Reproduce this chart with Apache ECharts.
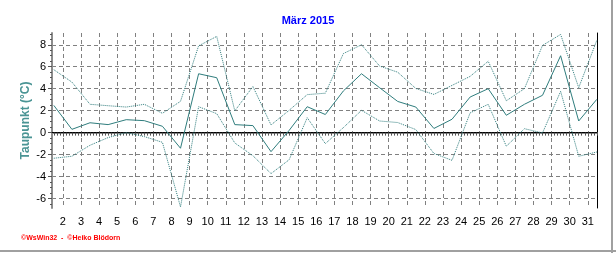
<!DOCTYPE html>
<html><head><meta charset="utf-8">
<script src="https://cdn.jsdelivr.net/npm/echarts@6/dist/echarts.min.js"></script>
<style>html,body{margin:0;padding:0;background:#fff}#c{width:616px;height:253px}</style>
</head><body><div id="c"></div>
<script>
var days = [1,2,3,4,5,6,7,8,9,10,11,12,13,14,15,16,17,18,19,20,21,22,23,24,25,26,27,28,29,30,31];
var meanVals = [2.48,0.3,0.9,0.73,1.18,1.09,0.58,-1.42,5.36,5.0,0.73,0.64,-1.73,0.2,2.36,1.65,3.8,5.36,4.09,2.84,2.33,0.38,1.22,3.24,4.0,1.58,2.58,3.4,7.0,1.06,3.03];
var maxVals = [5.73,4.6,2.58,2.45,2.33,2.58,1.76,2.85,7.9,8.76,1.98,4.2,0.7,2.03,3.46,3.59,7.2,8.0,6.06,5.5,4.02,3.48,4.3,5.12,6.5,2.9,4.0,7.94,8.94,4.09,8.4];
var minVals = [-2.33,-2.15,-1.15,-0.45,0.0,-0.36,-0.88,-6.76,2.36,1.73,-0.94,-2.1,-3.73,-2.47,1.36,-1.0,0.46,2.03,1.06,0.92,0.28,-1.9,-2.52,1.8,2.58,-1.24,0.36,-0.03,3.76,-2.15,-1.76];
var xTickLabels = [2,3,4,5,6,7,8,9,10,11,12,13,14,15,16,17,18,19,20,21,22,23,24,25,26,27,28,29,30,31];
var yTickLabels = [-6,-4,-2,0,2,4,6,8];
var XMIN = 1.40, XMAX = 31.51, YMIN = -6.86, YMAX = 9.07;

function pts(vals){ return days.map(function(d,i){ return [d + 0.5, vals[i]]; }); }
var xMinor = [], yMinor = [];
for (var k = Math.ceil(XMIN*6); k <= Math.floor(XMAX*6); k++) xMinor.push(k/6);
for (var m = Math.ceil(YMIN*2); m <= Math.floor(YMAX*2); m++) yMinor.push(m/2);

var lineColor = '#2f7d7d';
var chart = echarts.init(document.getElementById('c'));
chart.setOption({
  animation: false,
  backgroundColor: '#fff',
  title: { text: 'März 2015', left: 'center', top: 10,
    textStyle: { color: '#0000ff', fontSize: 11, fontWeight: 'bold', fontFamily: 'Liberation Sans, Arial, sans-serif' } },
  grid: { left: 52, right: 19, top: 33, bottom: 45 },
  xAxis: [
    { type: 'value', min: XMIN, max: XMAX, position: 'bottom',
      axisLine: { show: true, lineStyle: { color: '#8c8c8c', width: 2 } },
      axisTick: { show: true, customValues: xTickLabels, length: 4, lineStyle: { color: '#555' } },
      axisLabel: { customValues: xTickLabels, color: '#000', fontSize: 11, margin: 8, fontFamily: 'Liberation Sans, Arial, sans-serif' },
      splitLine: { show: true, lineStyle: { color: '#808080', type: [4, 3], width: 1 } } },
    { type: 'value', min: XMIN, max: XMAX, position: 'bottom',
      axisLine: { show: false },
      axisTick: { show: true, customValues: xMinor, length: 3, lineStyle: { color: '#555' } },
      axisLabel: { show: false }, splitLine: { show: false } },
    { type: 'value', min: XMIN, max: XMAX, position: 'top',
      axisLine: { show: true, lineStyle: { color: '#000', width: 1 } },
      axisTick: { show: false }, axisLabel: { show: false }, splitLine: { show: false } }
  ],
  yAxis: [
    { type: 'value', min: YMIN, max: YMAX, position: 'left',
      name: 'Taupunkt (°C)', nameLocation: 'middle', nameRotate: 90, nameGap: 20, nameMoveOverlap: false,
      nameTextStyle: { color: '#4a9494', fontSize: 12, fontWeight: 'bold', fontFamily: 'Liberation Sans, Arial, sans-serif' },
      axisLine: { show: true, lineStyle: { color: '#8c8c8c', width: 2 } },
      axisTick: { show: true, customValues: yTickLabels, length: 4, lineStyle: { color: '#555' } },
      axisLabel: { customValues: yTickLabels, color: '#000', fontSize: 11, margin: 6, fontFamily: 'Liberation Sans, Arial, sans-serif' },
      splitLine: { show: true, lineStyle: { color: '#808080', type: [4, 3], width: 1 } } },
    { type: 'value', min: YMIN, max: YMAX, position: 'left',
      axisLine: { show: false },
      axisTick: { show: true, customValues: yMinor, length: 2, lineStyle: { color: '#555' } },
      axisLabel: { show: false }, splitLine: { show: false } },
    { type: 'value', min: YMIN, max: YMAX, position: 'right',
      axisLine: { show: true, lineStyle: { color: '#000', width: 1 } },
      axisTick: { show: false }, axisLabel: { show: false }, splitLine: { show: false } }
  ],
  series: [
    { type: 'line', data: pts(maxVals), symbol: 'none', xAxisIndex: 0, yAxisIndex: 0,
      lineStyle: { color: lineColor, width: 1, type: [1, 1] } },
    { type: 'line', data: pts(minVals), symbol: 'none', xAxisIndex: 0, yAxisIndex: 0,
      lineStyle: { color: lineColor, width: 1, type: [1, 1] } },
    { type: 'line', data: pts(meanVals), symbol: 'none', xAxisIndex: 0, yAxisIndex: 0,
      lineStyle: { color: lineColor, width: 1 } }
  ],
  graphic: [
    { type: 'text', left: 21, top: 235,
      style: { text: '©WsWin32  -  ©Heiko Blödorn', fill: '#ff0000', font: 'bold 7px Liberation Sans, Arial, sans-serif' } },
    { type: 'rect', right: 3, top: 0, shape: { width: 2, height: 253 }, style: { fill: '#a0a0a0' } },
    { type: 'rect', left: 0, bottom: 1, shape: { width: 616, height: 2 }, style: { fill: '#a0a0a0' } }
  ]
});
</script></body></html>
